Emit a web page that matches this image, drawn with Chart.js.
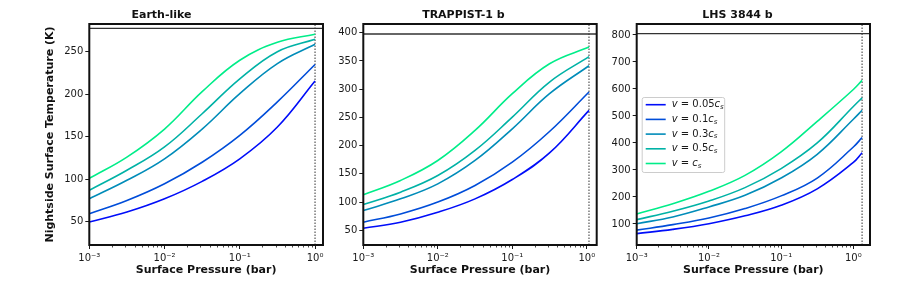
<!DOCTYPE html>
<html>
<head>
<meta charset="utf-8">
<script src="https://cdn.jsdelivr.net/npm/chart.js@4.4.0/dist/chart.umd.min.js"></script>
<style>
body { margin: 0; background: #fff; }
#wrap { position: relative; width: 897px; height: 299px; }
canvas { position: absolute; top: 0; }
</style>
</head>
<body>
<div id="wrap">
<canvas id="c1" width="330" height="299" style="left:0px"></canvas>
<canvas id="c2" width="275" height="299" style="left:330px"></canvas>
<canvas id="c3" width="292" height="299" style="left:605px"></canvas>
</div>
<script>
// wind speed as fraction of sound speed c_s
const velocityFractions = ['0.05', '0.1', '0.3', '0.5', ''];
const lineColors = ['rgb(0,13,249)', 'rgb(0,77,217)', 'rgb(0,140,185)', 'rgb(0,178,166)', 'rgb(0,237,137)'];

// Earth-like
const pressureEarth = [0.001, 0.00316, 0.01, 0.0316, 0.1, 0.316, 1.0];
const earthV005 = [49.6, 61.4, 77, 97.5, 124, 161.4, 215.5];
const earthV01 = [59.4, 75, 94.7, 120, 151.6, 191, 235];
const earthV03 = [77, 98.7, 124, 159, 200.6, 236, 258.7];
const earthV05 = [87, 110.5, 138, 177, 218, 250, 264.6];
const earthV1 = [101, 126, 159, 203, 240, 261, 270.5];
const earthRefTemp = 277.5;
const earthPmax = 1.0;

// TRAPPIST-1 b
const pressureTrappist = [0.001, 0.00316, 0.01, 0.0316, 0.1, 0.316, 1.07];
const trappistV005 = [53.7, 64.4, 82, 105.7, 140, 187, 262.4];
const trappistV01 = [64.4, 79, 100, 129.4, 170.7, 225, 295];
const trappistV03 = [85, 105.7, 132.3, 173.7, 229.8, 292, 341.5];
const trappistV05 = [95.7, 117.6, 147, 191.5, 250.5, 312.6, 357.5];
const trappistV1 = [113, 138.3, 173.7, 227, 292, 345, 374.6];
const trappistRefTemp = 397.7;
const trappistPmax = 1.07;

// LHS 3844 b
const pressureLhs = [0.001, 0.00316, 0.01, 0.0316, 0.1, 0.316, 1.0, 1.32];
const lhsV005 = [64, 80, 101, 130, 169, 230, 328, 364];
const lhsV01 = [77, 97.5, 122, 157, 204, 270, 385, 420];
const lhsV03 = [101, 126, 163, 206, 270, 358, 488, 521];
const lhsV05 = [116, 147, 185, 234.5, 305, 400, 535, 567];
const lhsV1 = [137, 175, 221, 280, 367, 480, 598, 632];
const lhsRefTemp = 805;
const lhsPmax = 1.32;

const decadeTicks = [0.001, 0.01, 0.1, 1];
const supers = { '-3': '\u207b\u00b3', '-2': '\u207b\u00b2', '-1': '\u207b\u00b9', '0': '\u2070' };

const FONT = '"DejaVu Sans", sans-serif';
const INK = '#1a1a1a';

const framePlugin = {
    id: 'frame',
    afterDatasetsDraw(chart) {
        const { ctx, chartArea: a, scales } = chart;
        const xs = scales.x;
        ctx.save();
        // minor log ticks
        ctx.strokeStyle = INK;
        ctx.lineWidth = 0.8;
        for (let d = -3; d <= 0; d++) {
            for (let m = 2; m <= 9; m++) {
                const v = m * Math.pow(10, d);
                if (v > xs.max) continue;
                const px = Math.round(xs.getPixelForValue(v)) + 0.5;
                ctx.beginPath();
                ctx.moveTo(px, a.bottom);
                ctx.lineTo(px, a.bottom + 2.5);
                ctx.stroke();
            }
        }
        ctx.lineWidth = 2;
        ctx.strokeStyle = '#111';
        ctx.strokeRect(a.left, a.top, a.right - a.left, a.bottom - a.top);
        ctx.restore();
    }
};

function drawLegendLabel(ctx, x, y, coef) {
    const base = '10px ' + FONT;
    const ital = 'italic 10px ' + FONT;
    ctx.font = ital;
    ctx.fillText('v', x, y);
    x += ctx.measureText('v').width;
    ctx.font = base;
    ctx.fillText(' = ' + coef, x, y);
    x += ctx.measureText(' = ' + coef).width;
    ctx.font = ital;
    ctx.fillText('c', x, y);
    x += ctx.measureText('c').width;
    ctx.font = 'italic 7px ' + FONT;
    ctx.fillText('s', x, y + 2.5);
}

const legendPlugin = {
    id: 'boxLegend',
    afterDraw(chart) {
        const ctx = chart.ctx;
        const left = chart.chartArea.left + 5;
        const top = 97;
        ctx.save();
        ctx.fillStyle = 'rgba(255,255,255,0.85)';
        ctx.strokeStyle = '#cccccc';
        ctx.lineWidth = 1;
        ctx.beginPath();
        ctx.roundRect(left + 0.5, top + 0.5, 82.5, 75, 2);
        ctx.fill();
        ctx.stroke();
        ctx.textBaseline = 'middle';
        ctx.fillStyle = INK;
        velocityFractions.forEach((c, i) => {
            const y = top + 7.7 + i * 14.7;
            ctx.strokeStyle = lineColors[i];
            ctx.lineWidth = 1.6;
            ctx.beginPath();
            ctx.moveTo(left + 4, y);
            ctx.lineTo(left + 24, y);
            ctx.stroke();
            drawLegendLabel(ctx, left + 30, y, c);
        });
        ctx.restore();
    }
};

function makePanel(id, opts) {
    const datasets = opts.series.map((vals, i) => ({
        data: opts.pressure.map((p, j) => ({ x: p, y: vals[j] })),
        borderColor: lineColors[i],
        borderWidth: 1.6,
        pointRadius: 0,
        tension: 0.4,
        fill: false
    }));
    datasets.push({
        data: [{ x: 0.001, y: opts.refTemp }, { x: opts.xMax, y: opts.refTemp }],
        borderColor: '#333',
        borderWidth: 1.3,
        pointRadius: 0
    });
    datasets.push({
        data: [{ x: opts.pMax, y: opts.yMin }, { x: opts.pMax, y: opts.yMax }],
        borderColor: '#333',
        borderWidth: 1,
        borderDash: [1.5, 1.5],
        pointRadius: 0
    });

    return new Chart(document.getElementById(id), {
        type: 'line',
        data: { datasets },
        plugins: opts.legend ? [framePlugin, legendPlugin] : [framePlugin],
        options: {
            responsive: false,
            animation: false,
            devicePixelRatio: 1,
            events: [],
            layout: { padding: { left: 0, right: opts.padRight, top: 0, bottom: 22 } },
            plugins: {
                legend: { display: false },
                tooltip: { enabled: false },
                title: {
                    display: true,
                    text: opts.title,
                    color: '#111',
                    font: { family: FONT, size: 11, weight: 'bold' },
                    padding: { top: 9, bottom: 1.8 }
                }
            },
            scales: {
                x: {
                    type: 'logarithmic',
                    min: 0.001,
                    max: opts.xMax,
                    afterBuildTicks(s) {
                        s.ticks = decadeTicks.filter(v => v <= s.max).map(v => ({ value: v, major: true }));
                    },
                    afterFit(s) { s.height = 32; },
                    ticks: {
                        autoSkip: false,
                        maxRotation: 0,
                        padding: 3,
                        color: INK,
                        font: { family: FONT, size: 10 },
                        callback: v => '10' + supers[String(Math.round(Math.log10(v)))]
                    },
                    grid: { drawOnChartArea: false, tickLength: 4, tickColor: INK, tickWidth: 1 },
                    border: { display: false },
                    title: {
                        display: true,
                        text: 'Surface Pressure (bar)',
                        color: '#111',
                        font: { family: FONT, size: 11, weight: 'bold' },
                        padding: 0
                    }
                },
                y: {
                    min: opts.yMin,
                    max: opts.yMax,
                    afterFit(s) { s.width = opts.yWidth; },
                    ticks: {
                        stepSize: opts.step,
                        includeBounds: false,
                        padding: 2,
                        color: INK,
                        font: { family: FONT, size: 10 }
                    },
                    grid: { drawOnChartArea: false, tickLength: 4, tickColor: INK, tickWidth: 1 },
                    border: { display: false },
                    title: {
                        display: !!opts.yTitle,
                        text: opts.yTitle || '',
                        color: '#111',
                        font: { family: FONT, size: 11, weight: 'bold' },
                        padding: { top: 43.4, bottom: 0 }
                    }
                }
            }
        }
    });
}

makePanel('c1', {
    title: 'Earth-like',
    yTitle: 'Nightside Surface Temperature (K)',
    pressure: pressureEarth,
    series: [earthV005, earthV01, earthV03, earthV05, earthV1],
    refTemp: earthRefTemp, pMax: earthPmax,
    xMax: 1.276, yMin: 22.6, yMax: 282.6, step: 50,
    yWidth: 89.3, padRight: 7
});

makePanel('c2', {
    title: 'TRAPPIST-1 b',
    pressure: pressureTrappist,
    series: [trappistV005, trappistV01, trappistV03, trappistV05, trappistV1],
    refTemp: trappistRefTemp, pMax: trappistPmax,
    xMax: 1.358, yMin: 24, yMax: 415.4, step: 50,
    yWidth: 33.3, padRight: 8.3
});

makePanel('c3', {
    title: 'LHS 3844 b',
    pressure: pressureLhs,
    series: [lhsV005, lhsV01, lhsV03, lhsV05, lhsV1],
    refTemp: lhsRefTemp, pMax: lhsPmax,
    xMax: 1.70, yMin: 22, yMax: 840.7, step: 100,
    yWidth: 31.7, padRight: 27,
    legend: true
});
</script>
</body>
</html>
